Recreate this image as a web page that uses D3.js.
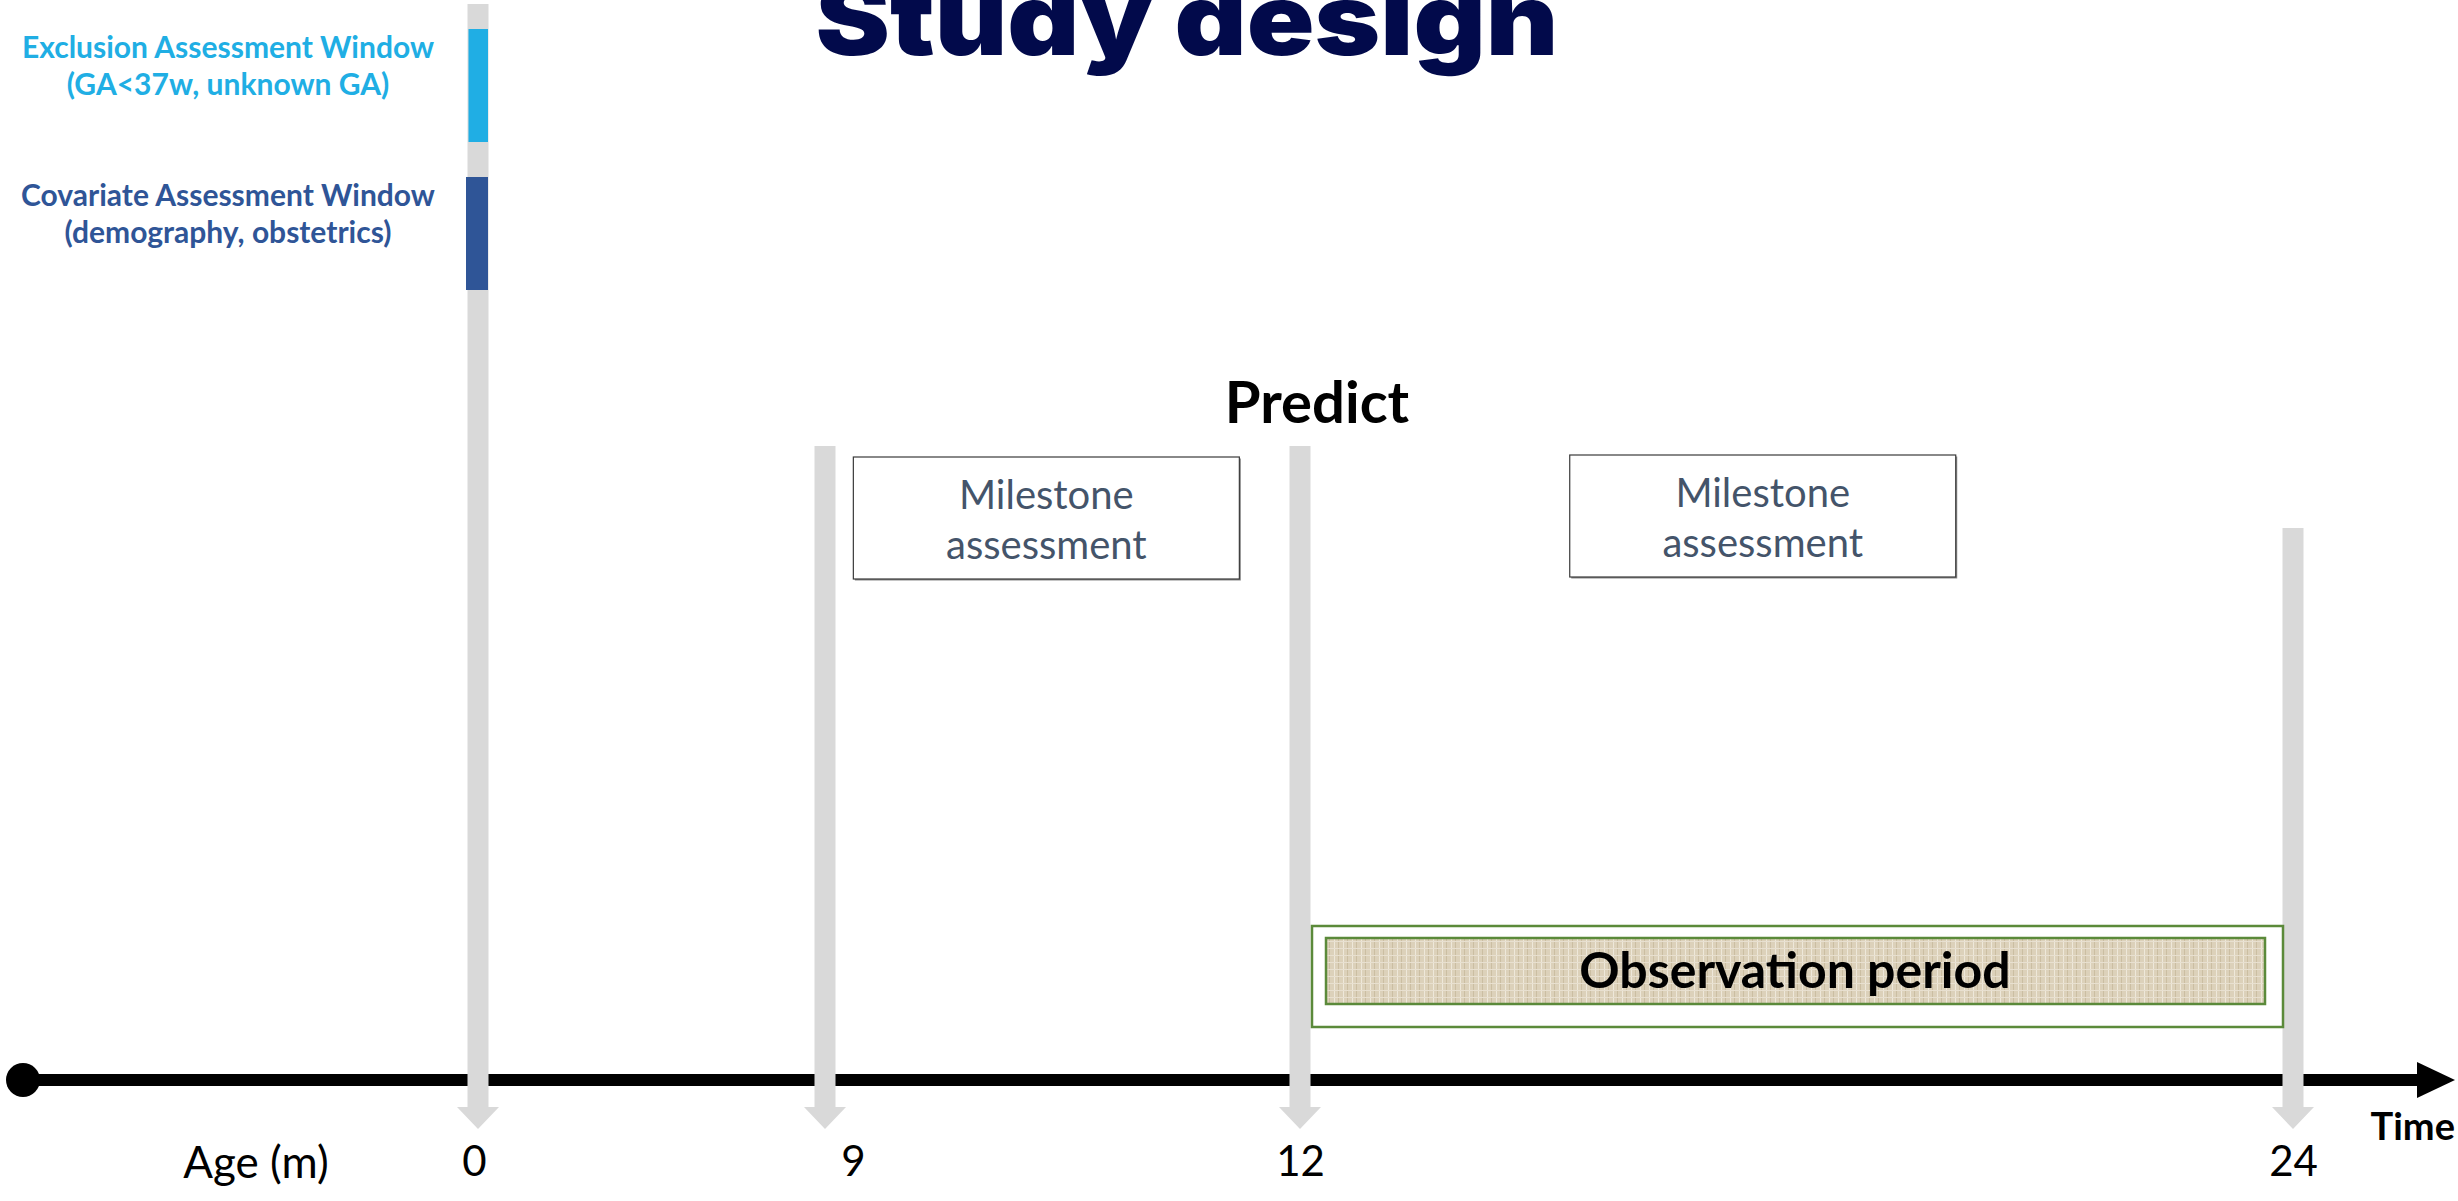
<!DOCTYPE html>
<html>
<head>
<meta charset="utf-8">
<script src="https://cdn.jsdelivr.net/npm/d3@7"></script>
<style>
  body { margin: 0; background: #fff; }
  text { font-family: Lato, "Open Sans", sans-serif; }
</style>
</head>
<body>
<div id="chart"></div>
<script>
// timeline data
var timepoints = [0, 9, 12, 24];
var tickLabels = ["0", "9", "12", "24"];
var windowTitles = ["Exclusion Assessment Window", "Covariate Assessment Window"];
var windowSubtitles = ["(GA<37w, unknown GA)", "(demography, obstetrics)"];
var milestoneSpans = [[9, 12], [12, 24]];
var observationSpan = [12, 24];
var predictAt = 12;

var width = 2458, height = 1201;
var axisY = 1080;
var windowColors = ["#20aee4", "#2f5597"];
var gray = "#d9d9d9", green = "#5b8a3a";

var svg = d3.select("#chart")
  .append("svg")
  .attr("width", width)
  .attr("height", height);

// the slide isn't drawn to scale, so the scale is piecewise
var x = d3.scaleLinear()
  .domain(timepoints)
  .range([478, 825, 1300, 2293]);

// texture for the observation bar
var defs = svg.append("defs");
var pat = defs.append("pattern")
  .attr("id", "burlap")
  .attr("patternUnits", "userSpaceOnUse")
  .attr("width", 9).attr("height", 7);
pat.append("rect").attr("width", 9).attr("height", 7).attr("fill", "#dcd1ba");
pat.append("rect").attr("x", 2).attr("width", 1).attr("height", 7).attr("fill", "#eee8da");
pat.append("rect").attr("x", 6).attr("width", 1).attr("height", 7).attr("fill", "#cbbea2");
pat.append("rect").attr("y", 3).attr("width", 9).attr("height", 1).attr("fill", "#e8e0d0");

// title, cut off at the top like the slide
svg.append("text")
  .attr("x", 1187).attr("y", 55)
  .attr("text-anchor", "middle")
  .attr("textLength", 743)
  .attr("lengthAdjust", "spacingAndGlyphs")
  .style("font-family", "Inter, Roboto, sans-serif")
  .style("font-weight", 900)
  .style("font-size", "100px")
  .attr("fill", "#020a4b")
  .text("Study design");

// main time axis
svg.append("line")
  .attr("x1", 23).attr("x2", 2420)
  .attr("y1", axisY).attr("y2", axisY)
  .attr("stroke", "#000").attr("stroke-width", 12);
svg.append("circle")
  .attr("cx", 23).attr("cy", axisY).attr("r", 17)
  .attr("fill", "#000");
svg.append("path")
  .attr("d", "M2417," + (axisY - 18) + "L2455," + axisY + "L2417," + (axisY + 18) + "Z")
  .attr("fill", "#000");

// gray down arrows at each timepoint
var arrowTop = function(d) { return d === 0 ? 4 : d === 24 ? 528 : 446; };
svg.selectAll(".tp-arrow")
  .data(timepoints)
  .enter().append("path")
  .attr("class", "tp-arrow")
  .attr("fill", gray)
  .attr("d", function(d) {
    var cx = x(d), t = arrowTop(d);
    return "M" + (cx - 10.5) + "," + t +
      "L" + (cx + 10.5) + "," + t +
      "L" + (cx + 10.5) + ",1107" +
      "L" + (cx + 21) + ",1107" +
      "L" + cx + ",1129" +
      "L" + (cx - 21) + ",1107" +
      "L" + (cx - 10.5) + ",1107Z";
  });

// assessment windows on the birth arrow
var winY = [29, 177];
svg.selectAll(".window")
  .data(windowTitles)
  .enter().append("rect")
  .attr("class", "window")
  .attr("x", function(d, i) { return x(0) - (i ? 12 : 9.5); })
  .attr("width", function(d, i) { return i ? 22 : 19.5; })
  .attr("y", function(d, i) { return winY[i]; })
  .attr("height", 113)
  .attr("fill", function(d, i) { return windowColors[i]; });

var winLabels = svg.selectAll(".win-label")
  .data(windowTitles)
  .enter().append("text")
  .attr("class", "win-label")
  .attr("text-anchor", "middle")
  .attr("fill", function(d, i) { return windowColors[i]; })
  .style("font-weight", 700)
  .style("font-size", "30px");
winLabels.append("tspan")
  .attr("x", 228)
  .attr("y", function(d, i) { return winY[i] + 29; })
  .text(function(d) { return d; });
winLabels.append("tspan")
  .attr("x", 228)
  .attr("y", function(d, i) { return winY[i] + 66; })
  .text(function(d, i) { return windowSubtitles[i]; });

// milestone boxes
var boxW = 386, boxH = 122;
var boxes = svg.selectAll(".milestone")
  .data(milestoneSpans)
  .enter().append("g")
  .attr("class", "milestone")
  .attr("transform", function(d, i) {
    var cx = x(d[0]) + 0.466 * (x(d[1]) - x(d[0]));
    return "translate(" + (cx - boxW / 2) + "," + (i ? 455 : 457) + ")";
  });
boxes.append("rect")
  .attr("x", 1.5).attr("y", 1.5)
  .attr("width", boxW).attr("height", boxH)
  .attr("fill", "#8a8a8a");
boxes.append("rect")
  .attr("width", boxW).attr("height", boxH)
  .attr("fill", "#fff")
  .attr("stroke", "#3a3a3a").attr("stroke-width", 1.2);
boxes.append("text")
  .attr("text-anchor", "middle")
  .attr("fill", "#44546a")
  .style("font-size", "40px")
  .selectAll("tspan")
  .data(["Milestone", "assessment"])
  .enter().append("tspan")
  .attr("x", boxW / 2)
  .attr("y", function(d, i) { return 52 + i * 50; })
  .text(function(d) { return d; });

// predict label
svg.append("text")
  .attr("x", x(predictAt) + 17).attr("y", 423)
  .attr("text-anchor", "middle")
  .style("font-weight", 700)
  .style("font-size", "58px")
  .attr("fill", "#000")
  .text("Predict");

// observation period
var obsX0 = x(observationSpan[0]), obsX1 = x(observationSpan[1]);
svg.append("rect")
  .attr("x", obsX0 + 12).attr("y", 926)
  .attr("width", obsX1 - obsX0 - 22).attr("height", 101)
  .attr("fill", "#fff")
  .attr("stroke", green).attr("stroke-width", 2.5);
svg.append("rect")
  .attr("x", obsX0 + 26).attr("y", 938)
  .attr("width", obsX1 - obsX0 - 54).attr("height", 66)
  .attr("fill", "url(#burlap)")
  .attr("stroke", green).attr("stroke-width", 2.5);
svg.append("text")
  .attr("x", 1795).attr("y", 988)
  .attr("text-anchor", "middle")
  .style("font-weight", 700)
  .style("font-size", "50px")
  .attr("fill", "#000")
  .text("Observation period");

// tick labels under the arrows
var axis = d3.axisBottom(x)
  .tickValues(timepoints)
  .tickSize(0)
  .tickFormat(function(d, i) { return tickLabels[i]; });
var axisG = svg.append("g")
  .attr("transform", "translate(0,1146)")
  .call(axis);
axisG.select(".domain").remove();
axisG.selectAll("text")
  .attr("y", 0).attr("dy", "0.71em")
  .attr("dx", function(d) { return d === 9 ? 28 : d === 0 ? -4 : 0; })
  .style("font-family", "Lato, sans-serif")
  .style("font-size", "42px")
  .attr("fill", "#000");

svg.append("text")
  .attr("x", 256).attr("y", 1178)
  .attr("text-anchor", "middle")
  .style("font-size", "44px")
  .attr("fill", "#000")
  .text("Age (m)");

svg.append("text")
  .attr("x", 2455).attr("y", 1140)
  .attr("text-anchor", "end")
  .style("font-weight", 700)
  .style("font-size", "38px")
  .attr("fill", "#000")
  .text("Time");
</script>
</body>
</html>
